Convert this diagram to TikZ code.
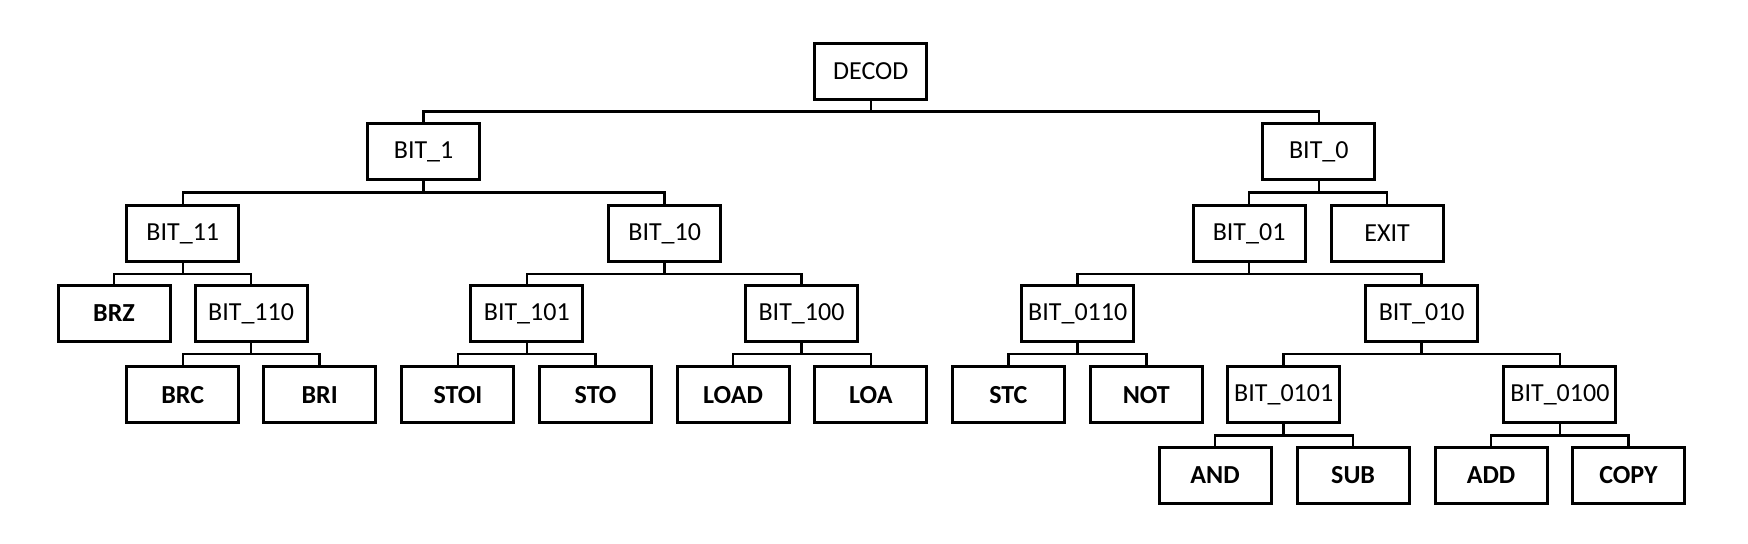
\documentclass[tikz,border=0pt]{standalone}
\usepackage{fontspec}
\setmainfont{Carlito}
\begin{document}
\begin{tikzpicture}[x=0.5pt,y=-0.5pt,
  box/.style={draw, line width=1.5pt, minimum width=56pt, minimum height=28pt, inner sep=0pt, font=\fontsize{13}{15}\selectfont},
  leaf/.style={box, font=\fontsize{13}{15}\selectfont\bfseries},
  conn/.style={line width=1.3pt}]
\useasboundingbox (0,0) rectangle (1748,544);
% row 0
\node[box] (decod) at (870.8,71.2) {DECOD};
% row 1
\node[box] (b1) at (423.6,151.8) {BIT\_1};
\node[box] (b0) at (1318.8,151.8) {BIT\_0};
% row 2
\node[box] (b11) at (182.8,233.4) {BIT\_11};
\node[box] (b10) at (664.7,233.4) {BIT\_10};
\node[box] (b01) at (1249.1,233.4) {BIT\_01};
\node[box] (exit) at (1387,233.4) {EXIT};
% row 3
\node[leaf] (brz) at (114,313.4) {BRZ};
\node[box] (b110) at (251.1,313.4) {BIT\_110};
\node[box] (b101) at (526.8,313.4) {BIT\_101};
\node[box] (b100) at (801.5,313.4) {BIT\_100};
\node[box] (b0110) at (1077.7,313.4) {BIT\_0110};
\node[box] (b010) at (1421.7,313.4) {BIT\_010};
% row 4
\node[leaf] (brc) at (182.8,394.8) {BRC};
\node[leaf] (bri) at (319.6,394.8) {BRI};
\node[leaf] (stoi) at (457.9,394.8) {STOI};
\node[leaf] (sto) at (595.6,394.8) {STO};
\node[leaf] (load) at (733,394.8) {LOAD};
\node[leaf] (loa) at (870.8,394.8) {LOA};
\node[leaf] (stc) at (1008.3,394.8) {STC};
\node[leaf] (not) at (1146.3,394.8) {NOT};
\node[box] (b0101) at (1283.7,394.8) {BIT\_0101};
\node[box] (b0100) at (1559.9,394.8) {BIT\_0100};
% row 5
\node[leaf] (and) at (1215.1,475.2) {AND};
\node[leaf] (sub) at (1353.1,475.2) {SUB};
\node[leaf] (add) at (1491,475.2) {ADD};
\node[leaf] (copy) at (1628.4,475.2) {COPY};
% connectors
\foreach \p/\c in {decod/b1, decod/b0,
                   b1/b11, b1/b10, b0/b01, b0/exit,
                   b11/brz, b11/b110, b10/b101, b10/b100, b01/b0110, b01/b010,
                   b110/brc, b110/bri, b101/stoi, b101/sto, b100/load, b100/loa,
                   b0110/stc, b0110/not, b010/b0101, b010/b0100,
                   b0101/and, b0101/sub, b0100/add, b0100/copy}
  \draw[conn] (\p.south) -- ++(0,11) -| (\c.north);
\end{tikzpicture}
\end{document}
